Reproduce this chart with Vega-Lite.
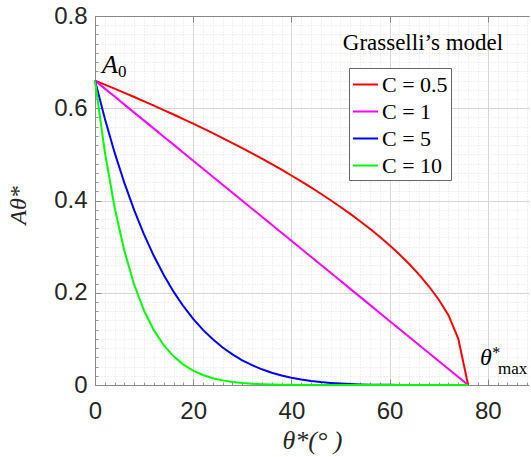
{
  "$schema": "https://vega.github.io/schema/vega-lite/v6.json",
  "width": 434,
  "height": 369,
  "autosize": {"type": "none"},
  "padding": {"left": 95, "top": 16, "right": 2, "bottom": 72},
  "background": "white",
  "view": {"stroke": null},
  "config": {
    "axis": {"labelFont": "Liberation Sans", "labelFontSize": 24, "labelColor": "#262626", "labelFlush": false},
    "text": {"font": "Liberation Serif", "color": "#000000"},
    "legend": {
      "orient": "none", "legendX": 254, "legendY": 52, "direction": "vertical",
      "strokeColor": "#666666", "fillColor": "white", "padding": 3,
      "symbolType": "stroke", "symbolSize": 625, "symbolStrokeWidth": 2,
      "labelFont": "Liberation Serif", "labelFontSize": 22, "labelColor": "#000000",
      "labelOffset": 3, "rowPadding": 2, "labelLimit": 200
    }
  },
  "datasets": {
    "curves": [
      {"t":0,"A":0.66,"C":"0.5"},{"t":2,"A":0.6513,"C":"0.5"},{"t":4,"A":0.6424,"C":"0.5"},{"t":6,"A":0.6334,"C":"0.5"},{"t":8,"A":0.6243,"C":"0.5"},{"t":10,"A":0.615,"C":"0.5"},{"t":12,"A":0.6057,"C":"0.5"},{"t":14,"A":0.5961,"C":"0.5"},{"t":16,"A":0.5864,"C":"0.5"},{"t":18,"A":0.5766,"C":"0.5"},{"t":20,"A":0.5665,"C":"0.5"},{"t":22,"A":0.5563,"C":"0.5"},{"t":24,"A":0.5459,"C":"0.5"},{"t":26,"A":0.5353,"C":"0.5"},{"t":28,"A":0.5245,"C":"0.5"},{"t":30,"A":0.5135,"C":"0.5"},{"t":32,"A":0.5022,"C":"0.5"},{"t":34,"A":0.4906,"C":"0.5"},{"t":36,"A":0.4788,"C":"0.5"},{"t":38,"A":0.4667,"C":"0.5"},{"t":40,"A":0.4542,"C":"0.5"},{"t":42,"A":0.4414,"C":"0.5"},{"t":44,"A":0.4283,"C":"0.5"},{"t":46,"A":0.4147,"C":"0.5"},{"t":48,"A":0.4006,"C":"0.5"},{"t":50,"A":0.386,"C":"0.5"},{"t":52,"A":0.3709,"C":"0.5"},{"t":54,"A":0.3551,"C":"0.5"},{"t":56,"A":0.3386,"C":"0.5"},{"t":58,"A":0.3212,"C":"0.5"},{"t":60,"A":0.3028,"C":"0.5"},{"t":62,"A":0.2833,"C":"0.5"},{"t":64,"A":0.2623,"C":"0.5"},{"t":66,"A":0.2394,"C":"0.5"},{"t":68,"A":0.2141,"C":"0.5"},{"t":70,"A":0.1854,"C":"0.5"},{"t":72,"A":0.1514,"C":"0.5"},{"t":74,"A":0.1,"C":"0.5"},{"t":76,"A":0,"C":"0.5"},
      {"t":0,"A":0.66,"C":"1"},{"t":2,"A":0.6426,"C":"1"},{"t":4,"A":0.6253,"C":"1"},{"t":6,"A":0.6079,"C":"1"},{"t":8,"A":0.5905,"C":"1"},{"t":10,"A":0.5732,"C":"1"},{"t":12,"A":0.5558,"C":"1"},{"t":14,"A":0.5384,"C":"1"},{"t":16,"A":0.5211,"C":"1"},{"t":18,"A":0.5037,"C":"1"},{"t":20,"A":0.4863,"C":"1"},{"t":22,"A":0.4689,"C":"1"},{"t":24,"A":0.4516,"C":"1"},{"t":26,"A":0.4342,"C":"1"},{"t":28,"A":0.4168,"C":"1"},{"t":30,"A":0.3995,"C":"1"},{"t":32,"A":0.3821,"C":"1"},{"t":34,"A":0.3647,"C":"1"},{"t":36,"A":0.3474,"C":"1"},{"t":38,"A":0.33,"C":"1"},{"t":40,"A":0.3126,"C":"1"},{"t":42,"A":0.2953,"C":"1"},{"t":44,"A":0.2779,"C":"1"},{"t":46,"A":0.2605,"C":"1"},{"t":48,"A":0.2432,"C":"1"},{"t":50,"A":0.2258,"C":"1"},{"t":52,"A":0.2084,"C":"1"},{"t":54,"A":0.1911,"C":"1"},{"t":56,"A":0.1737,"C":"1"},{"t":58,"A":0.1563,"C":"1"},{"t":60,"A":0.1389,"C":"1"},{"t":62,"A":0.1216,"C":"1"},{"t":64,"A":0.1042,"C":"1"},{"t":66,"A":0.0868,"C":"1"},{"t":68,"A":0.0695,"C":"1"},{"t":70,"A":0.0521,"C":"1"},{"t":72,"A":0.0347,"C":"1"},{"t":74,"A":0.0174,"C":"1"},{"t":76,"A":0,"C":"1"},
      {"t":0,"A":0.66,"C":"5"},{"t":2,"A":0.5776,"C":"5"},{"t":4,"A":0.5037,"C":"5"},{"t":6,"A":0.4375,"C":"5"},{"t":8,"A":0.3785,"C":"5"},{"t":10,"A":0.326,"C":"5"},{"t":12,"A":0.2795,"C":"5"},{"t":14,"A":0.2385,"C":"5"},{"t":16,"A":0.2024,"C":"5"},{"t":18,"A":0.1708,"C":"5"},{"t":20,"A":0.1434,"C":"5"},{"t":22,"A":0.1195,"C":"5"},{"t":24,"A":0.099,"C":"5"},{"t":26,"A":0.0813,"C":"5"},{"t":28,"A":0.0663,"C":"5"},{"t":30,"A":0.0536,"C":"5"},{"t":32,"A":0.0429,"C":"5"},{"t":34,"A":0.034,"C":"5"},{"t":36,"A":0.0267,"C":"5"},{"t":38,"A":0.0206,"C":"5"},{"t":40,"A":0.0157,"C":"5"},{"t":42,"A":0.0118,"C":"5"},{"t":44,"A":0.0087,"C":"5"},{"t":46,"A":0.0063,"C":"5"},{"t":48,"A":0.0045,"C":"5"},{"t":50,"A":0.0031,"C":"5"},{"t":52,"A":0.0021,"C":"5"},{"t":54,"A":0.0013,"C":"5"},{"t":56,"A":0.0008,"C":"5"},{"t":58,"A":0.0005,"C":"5"},{"t":60,"A":0.0003,"C":"5"},{"t":62,"A":0.0001,"C":"5"},{"t":64,"A":0.0001,"C":"5"},{"t":66,"A":0,"C":"5"},{"t":68,"A":0,"C":"5"},{"t":70,"A":0,"C":"5"},{"t":72,"A":0,"C":"5"},{"t":74,"A":0,"C":"5"},{"t":76,"A":0,"C":"5"},
      {"t":0,"A":0.66,"C":"10"},{"t":2,"A":0.5055,"C":"10"},{"t":4,"A":0.3844,"C":"10"},{"t":6,"A":0.29,"C":"10"},{"t":8,"A":0.217,"C":"10"},{"t":10,"A":0.161,"C":"10"},{"t":12,"A":0.1184,"C":"10"},{"t":14,"A":0.0862,"C":"10"},{"t":16,"A":0.0621,"C":"10"},{"t":18,"A":0.0442,"C":"10"},{"t":20,"A":0.0311,"C":"10"},{"t":22,"A":0.0216,"C":"10"},{"t":24,"A":0.0148,"C":"10"},{"t":26,"A":0.01,"C":"10"},{"t":28,"A":0.0067,"C":"10"},{"t":30,"A":0.0044,"C":"10"},{"t":32,"A":0.0028,"C":"10"},{"t":34,"A":0.0018,"C":"10"},{"t":36,"A":0.0011,"C":"10"},{"t":38,"A":0.0006,"C":"10"},{"t":40,"A":0.0004,"C":"10"},{"t":42,"A":0.0002,"C":"10"},{"t":44,"A":0.0001,"C":"10"},{"t":46,"A":0.0001,"C":"10"},{"t":48,"A":0,"C":"10"},{"t":50,"A":0,"C":"10"},{"t":52,"A":0,"C":"10"},{"t":54,"A":0,"C":"10"},{"t":56,"A":0,"C":"10"},{"t":58,"A":0,"C":"10"},{"t":60,"A":0,"C":"10"},{"t":62,"A":0,"C":"10"},{"t":64,"A":0,"C":"10"},{"t":66,"A":0,"C":"10"},{"t":68,"A":0,"C":"10"},{"t":70,"A":0,"C":"10"},{"t":72,"A":0,"C":"10"},{"t":74,"A":0,"C":"10"},{"t":76,"A":0,"C":"10"}
    ],
    "notes": [
      {"key":"title","t":66.8,"a":0.726,"label":"Grasselli’s model"},
      {"key":"A","t":3.06,"a":0.676,"label":"A"},
      {"key":"sub0","t":5.7,"a":0.668,"label":"0"},
      {"key":"theta","t":78.4,"a":0.0434,"label":"θ"},
      {"key":"star","t":80.9,"a":0.058,"label":"*"},
      {"key":"max","t":83.1,"a":0.024,"label":"max"}
    ]
  },
  "layer": [
    {
      "data": {"name": "curves"},
      "mark": {"type": "line", "strokeWidth": 2},
      "encoding": {
        "x": {"field": "t", "type": "quantitative",
          "scale": {"domain": [0, 88.4], "nice": false, "zero": false},
          "axis": {"orient": "bottom", "values": [0,2,4,6,8,10,12,14,16,18,20,22,24,26,28,30,32,34,36,38,40,42,44,46,48,50,52,54,56,58,60,62,64,66,68,70,72,74,76,78,80,82,84,86,88],
            "grid": true, "gridColor": "#e2e2e2", "gridDash": [1, 2], "gridWidth": 1,
            "labels": false, "ticks": true, "tickSize": -3, "tickColor": "#999999", "domain": false, "title": null}},
        "y": {"field": "A", "type": "quantitative",
          "scale": {"domain": [0, 0.8], "nice": false, "zero": false},
          "axis": {"orient": "left", "values": [0,0.02,0.04,0.06,0.08,0.1,0.12,0.14,0.16,0.18,0.2,0.22,0.24,0.26,0.28,0.3,0.32,0.34,0.36,0.38,0.4,0.42,0.44,0.46,0.48,0.5,0.52,0.54,0.56,0.58,0.6,0.62,0.64,0.66,0.68,0.7,0.72,0.74,0.76,0.78,0.8],
            "grid": true, "gridColor": "#e2e2e2", "gridDash": [1, 2], "gridWidth": 1,
            "labels": false, "ticks": true, "tickSize": -3, "tickColor": "#999999", "domain": false, "title": null}},
        "color": {"field": "C", "type": "nominal",
          "scale": {"domain": ["0.5", "1", "5", "10"], "range": ["#ff0000", "#ff00ff", "#0000ff", "#00ff00"]},
          "legend": {"title": null, "labelExpr": "'C = ' + datum.label"}}
      }
    },
    {
      "data": {"name": "notes"},
      "transform": [{"filter": "datum.key === 'title'"}],
      "mark": {"type": "text", "font": "Liberation Serif", "fontSize": 23, "align": "center", "baseline": "alphabetic"},
      "encoding": {
        "x": {"field": "t", "type": "quantitative",
          "scale": {"domain": [0, 88.4], "nice": false, "zero": false},
          "axis": {"orient": "bottom", "values": [0, 20, 40, 60, 80], "format": "~r",
            "grid": true, "gridColor": "#d6d6d6", "gridWidth": 1,
            "domain": true, "domainColor": "#888888", "ticks": true, "tickSize": -6, "tickColor": "#888888",
            "labelPadding": 20,
            "title": "θ*(° )", "titleFont": "Liberation Serif", "titleFontStyle": "italic", "titleFontWeight": "normal",
            "titleFontSize": 26, "titleColor": "#262626", "titleX": 217, "titleY": 63, "titleAlign": "center", "titleBaseline": "alphabetic"}},
        "y": {"field": "a", "type": "quantitative",
          "scale": {"domain": [0, 0.8], "nice": false, "zero": false},
          "axis": {"orient": "left", "values": [0, 0.2, 0.4, 0.6, 0.8], "format": "~r",
            "grid": true, "gridColor": "#d6d6d6", "gridWidth": 1,
            "domain": true, "domainColor": "#888888", "ticks": true, "tickSize": -6, "tickColor": "#888888",
            "labelPadding": 14,
            "title": "Aθ*", "titleFont": "Liberation Serif", "titleFontStyle": "italic", "titleFontWeight": "normal",
            "titleFontSize": 24, "titleColor": "#262626", "titleX": -77, "titleY": 189, "titleAngle": -90, "titleAlign": "center", "titleBaseline": "middle"}},
        "text": {"field": "label"}
      }
    },
    {
      "data": {"name": "notes"},
      "transform": [{"filter": "datum.key === 'A'"}],
      "mark": {"type": "text", "font": "Liberation Serif", "fontStyle": "italic", "fontSize": 26, "align": "center", "baseline": "alphabetic"},
      "encoding": {
        "x": {"field": "t", "type": "quantitative",
          "scale": {"domain": [0, 88.4], "nice": false, "zero": false},
          "axis": {"orient": "top", "values": [0, 20, 40, 60, 80], "grid": false, "labels": false,
            "domain": true, "domainColor": "#888888", "ticks": true, "tickSize": -6, "tickColor": "#888888", "title": null}},
        "y": {"field": "a", "type": "quantitative", "scale": {"domain": [0, 0.8], "nice": false, "zero": false}, "axis": null},
        "text": {"field": "label"}
      }
    },
    {
      "data": {"name": "notes"},
      "transform": [{"filter": "datum.key === 'sub0' || datum.key === 'max'"}],
      "mark": {"type": "text", "font": "Liberation Serif", "fontSize": 17, "align": "left", "baseline": "alphabetic", "dx": -5},
      "encoding": {
        "x": {"field": "t", "type": "quantitative", "scale": {"domain": [0, 88.4], "nice": false, "zero": false}, "axis": null},
        "y": {"field": "a", "type": "quantitative", "scale": {"domain": [0, 0.8], "nice": false, "zero": false}, "axis": null},
        "text": {"field": "label"}
      }
    },
    {
      "data": {"name": "notes"},
      "transform": [{"filter": "datum.key === 'theta'"}],
      "mark": {"type": "text", "font": "Liberation Serif", "fontStyle": "italic", "fontSize": 24, "align": "left", "baseline": "alphabetic"},
      "encoding": {
        "x": {"field": "t", "type": "quantitative", "scale": {"domain": [0, 88.4], "nice": false, "zero": false}, "axis": null},
        "y": {"field": "a", "type": "quantitative", "scale": {"domain": [0, 0.8], "nice": false, "zero": false}, "axis": null},
        "text": {"field": "label"}
      }
    },
    {
      "data": {"name": "notes"},
      "transform": [{"filter": "datum.key === 'star'"}],
      "mark": {"type": "text", "font": "Liberation Serif", "fontSize": 16, "align": "left", "baseline": "alphabetic"},
      "encoding": {
        "x": {"field": "t", "type": "quantitative", "scale": {"domain": [0, 88.4], "nice": false, "zero": false}, "axis": null},
        "y": {"field": "a", "type": "quantitative", "scale": {"domain": [0, 0.8], "nice": false, "zero": false}, "axis": null},
        "text": {"field": "label"}
      }
    }
  ],
  "resolve": {"axis": {"x": "independent", "y": "independent"}}
}
